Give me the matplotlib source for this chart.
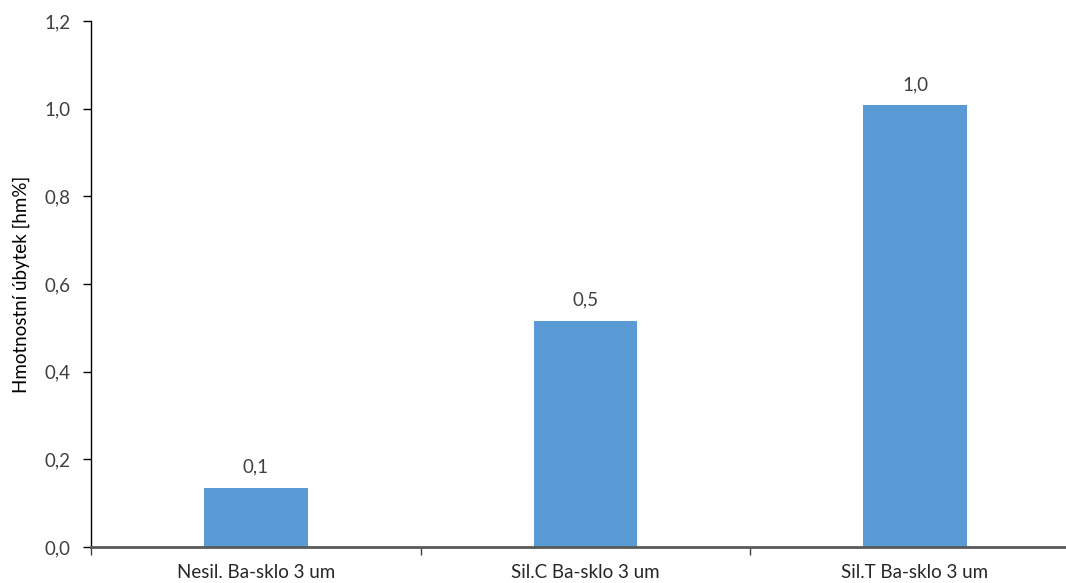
import matplotlib.pyplot as plt
import numpy as np
from matplotlib.ticker import FuncFormatter, FixedLocator

# data
kategorie = ['Nesil. Ba-sklo 3 um', 'Sil.C Ba-sklo 3 um', 'Sil.T Ba-sklo 3 um']
ubytek = [0.135, 0.516, 1.008]

plt.rcParams['font.family'] = ['Lato', 'DejaVu Sans']

fig = plt.figure(figsize=(10.66, 5.83), dpi=100)
ax = fig.add_axes([0.0854, 0.0617, 0.9276, 0.9023])

x = np.arange(len(kategorie))
bars = ax.bar(x, ubytek, width=0.315, color='#5b9bd5', zorder=2)

# popisky hodnot nad sloupci
for xi, v in zip(x, ubytek):
    ax.text(xi, v + 0.028, f'{v:.1f}'.replace('.', ','), ha='center', va='bottom',
            fontsize=13.5, color='#404040')

ax.set_xlim(-0.5, len(kategorie) - 0.5)
ax.set_ylim(0, 1.2)
ax.set_yticks(np.arange(0, 1.21, 0.2))
ax.yaxis.set_major_formatter(FuncFormatter(lambda v, p: f'{v:.1f}'.replace('.', ',')))

ax.set_xticks(x)
ax.set_xticklabels(kategorie, fontsize=13.5, color='#262626')
ax.xaxis.set_minor_locator(FixedLocator(np.arange(-0.5, len(kategorie), 1)))
ax.tick_params(axis='x', which='major', length=0, pad=12)
ax.tick_params(axis='x', which='minor', length=6, width=1, color='#404040')
ax.tick_params(axis='y', labelsize=13.5, labelcolor='#404040', length=6, width=1, pad=9)

ax.set_ylabel('Hmotnostní úbytek [hm%]', fontsize=13.5, color='#000000', labelpad=10)

for s in ['top', 'right']:
    ax.spines[s].set_visible(False)
ax.spines['left'].set_color('#000000')
ax.spines['left'].set_linewidth(1)
ax.spines['bottom'].set_color('#595959')
ax.spines['bottom'].set_linewidth(2)

fig.savefig('out.png', dpi=100)
